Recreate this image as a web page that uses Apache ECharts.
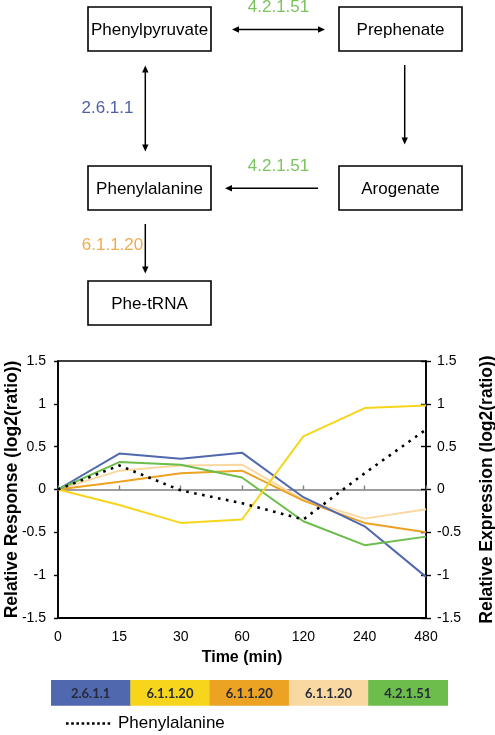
<!DOCTYPE html>
<html>
<head>
<meta charset="utf-8">
<script src="https://cdn.jsdelivr.net/npm/echarts@6/dist/echarts.min.js"></script>
<style>
html,body{margin:0;padding:0;background:#fff;}
#c{width:495px;height:735px;}
</style>
</head>
<body>
<div id="c"></div>
<script>
// ---- data ----
const times = ['0', '15', '30', '60', '120', '240', '480'];
const enzymeNames = ['2.6.1.1', '6.1.1.20', '6.1.1.20', '6.1.1.20', '4.2.1.51'];
const enzymeColors = ['#5068ad', '#f7d51c', '#eca222', '#f9d8a2', '#6cbd4c'];
const expr_2611 = [0, 0.42, 0.36, 0.43, -0.09, -0.43, -1.02];
const expr_61120a = [0, -0.18, -0.39, -0.35, 0.62, 0.95, 0.98];
const expr_61120b = [0, 0.09, 0.19, 0.22, -0.13, -0.39, -0.50];
const expr_61120c = [0, 0.22, 0.28, 0.29, -0.12, -0.34, -0.23];
const expr_42151 = [0, 0.32, 0.29, 0.14, -0.37, -0.65, -0.55];
const metaboliteName = 'Phenylalanine';
const resp_phe = [0, 0.28, -0.01, -0.16, -0.35, 0.19, 0.70];
const yMin = -1.5, yMax = 1.5, yStep = 0.5;

// pathway diagram nodes and edges
const nodes = [
  {name: 'Phenylpyruvate', cx: 149.5, cy: 29},
  {name: 'Prephenate', cx: 400.5, cy: 29},
  {name: 'Phenylalanine', cx: 149.5, cy: 188},
  {name: 'Arogenate', cx: 400.5, cy: 188},
  {name: 'Phe-tRNA', cx: 149.5, cy: 303}
];
const enzymeLabelsDiagram = [
  {text: '4.2.1.51', x: 278.5, y: 7, color: '#7cc25e'},
  {text: '2.6.1.1', x: 107.5, y: 108, color: '#4f5fa8'},
  {text: '4.2.1.51', x: 278.5, y: 166.5, color: '#7cc25e'},
  {text: '6.1.1.20', x: 112.5, y: 245.5, color: '#f0ab4e'}
];

// ---- build ----
const chart = echarts.init(document.getElementById('c'));
const FONT = '"Liberation Sans", Arial, sans-serif';
const g = [];

nodes.forEach(n => {
  g.push({type: 'rect', shape: {x: n.cx - 61.5, y: n.cy - 22, width: 123, height: 44},
    style: {fill: '#fff', stroke: '#000', lineWidth: 1.6}});
  g.push({type: 'text', x: n.cx, y: n.cy + 1,
    style: {text: n.name, font: '17px ' + FONT, fill: '#000', align: 'center', verticalAlign: 'middle',
      textAlign: 'center', textVerticalAlign: 'middle'}});
});

function head(tx, ty, dx, dy) {
  const L = 7, W = 3.2, nx = -dy, ny = dx;
  g.push({type: 'polygon', shape: {points: [[tx, ty],
    [tx - L * dx + W * nx, ty - L * dy + W * ny],
    [tx - L * dx - W * nx, ty - L * dy - W * ny]]}, style: {fill: '#000'}});
}
function arrow(x1, y1, x2, y2, both) {
  const len = Math.hypot(x2 - x1, y2 - y1), dx = (x2 - x1) / len, dy = (y2 - y1) / len;
  const sx = both ? x1 + 6 * dx : x1, sy = both ? y1 + 6 * dy : y1;
  g.push({type: 'line', shape: {x1: sx, y1: sy, x2: x2 - 6 * dx, y2: y2 - 6 * dy},
    style: {stroke: '#000', lineWidth: 1.5}});
  head(x2, y2, dx, dy);
  if (both) head(x1, y1, -dx, -dy);
}
arrow(232, 29.5, 325, 29.5, true);
arrow(145.3, 65.5, 145.3, 151.5, true);
arrow(404.7, 65, 404.7, 144.5, false);
arrow(318, 188.3, 225, 188.3, false);
arrow(145.3, 224, 145.3, 273.5, false);

enzymeLabelsDiagram.forEach(l => {
  g.push({type: 'text', x: l.x, y: l.y,
    style: {text: l.text, font: '17px ' + FONT, fill: l.color, align: 'center', verticalAlign: 'middle',
      textAlign: 'center', textVerticalAlign: 'middle'}});
});

// legend boxes
const lgX = 51, lgY = 680, lgW = 79.3, lgH = 25.7;
enzymeNames.forEach((nm, i) => {
  g.push({type: 'rect', shape: {x: lgX + i * lgW, y: lgY, width: lgW + 0.5, height: lgH},
    style: {fill: enzymeColors[i]}});
  g.push({type: 'text', x: lgX + i * lgW + lgW / 2, y: lgY + lgH / 2 + 0.5,
    style: {text: nm, font: 'bold 13px Lato, "Liberation Sans", sans-serif', fill: '#262b3a',
      align: 'center', verticalAlign: 'middle', textAlign: 'center', textVerticalAlign: 'middle'}});
});
g.push({type: 'line', shape: {x1: 66, y1: 723.5, x2: 111, y2: 723.5},
  style: {stroke: '#000', lineWidth: 2.6, lineDash: [2.6, 2.6]}});
g.push({type: 'text', x: 118, y: 723.5,
  style: {text: metaboliteName, font: '17px ' + FONT, fill: '#000', align: 'left', verticalAlign: 'middle',
    textAlign: 'left', textVerticalAlign: 'middle'}});

const exprSeries = [expr_2611, expr_61120a, expr_61120b, expr_61120c, expr_42151];
const drawOrder = [3, 2, 0, 4, 1];
const series = drawOrder.map(i => ({
  name: enzymeNames[i], type: 'line', xAxisIndex: 0, yAxisIndex: 1,
  data: exprSeries[i], symbol: 'none', animation: false,
  lineStyle: {color: enzymeColors[i], width: 2}, z: 3
}));
series.push({
  name: metaboliteName, type: 'line', xAxisIndex: 0, yAxisIndex: 0,
  data: resp_phe, symbol: 'none', animation: false,
  lineStyle: {color: '#000', width: 2.6, type: [2.6, 5.5]}, z: 4
});

const yBase = {
  type: 'value', min: yMin, max: yMax, interval: yStep,
  splitLine: {show: false},
  axisLabel: {fontSize: 14, color: '#000', fontFamily: FONT, margin: 12},
  axisLine: {show: true, lineStyle: {color: '#000', width: 1.6}},
  axisTick: {show: true, length: 4, lineStyle: {color: '#000', width: 1.4}},
  nameLocation: 'middle',
  nameMoveOverlap: false,
  nameTextStyle: {fontSize: 17.5, fontWeight: 'bold', color: '#000', fontFamily: FONT}
};

chart.setOption({
  animation: false,
  backgroundColor: '#fff',
  grid: {left: 58, right: 69, top: 361, bottom: 117, show: true, borderColor: '#000', borderWidth: 1.6,
    backgroundColor: 'transparent', containLabel: false, outerBoundsMode: 'none'},
  xAxis: [
    {type: 'category', data: times, boundaryGap: false, position: 'bottom',
      axisLine: {onZero: false, lineStyle: {color: '#000', width: 2}},
      axisTick: {show: false},
      axisLabel: {fontSize: 14, color: '#000', margin: 12, fontFamily: FONT},
      name: 'Time (min)', nameLocation: 'middle', nameGap: 32, nameMoveOverlap: false,
      nameTextStyle: {fontSize: 16, fontWeight: 'bold', color: '#000', fontFamily: FONT}},
    {type: 'category', data: times, boundaryGap: false, position: 'top',
      axisLine: {onZero: true, onZeroAxisIndex: 0, lineStyle: {color: '#7f7f7f', width: 1.6}},
      axisTick: {show: true, length: 4, lineStyle: {color: '#7f7f7f', width: 1.4}},
      axisLabel: {show: false}}
  ],
  yAxis: [
    Object.assign({}, yBase, {position: 'left', name: 'Relative Response (log2(ratio))', nameGap: 37}),
    Object.assign({}, yBase, {position: 'right', name: 'Relative Expression (log2(ratio))', nameGap: 52,
      axisLabel: {fontSize: 14, color: '#000', fontFamily: FONT, margin: 11},
      axisTick: {show: true, length: 5, lineStyle: {color: '#000', width: 1.4}}}),
    Object.assign({}, yBase, {position: 'right', name: '', axisLabel: {show: false},
      axisLine: {show: false},
      axisTick: {show: true, inside: true, length: 5, lineStyle: {color: '#000', width: 1.4}}})
  ],
  series: series,
  graphic: g
});
</script>
</body>
</html>
